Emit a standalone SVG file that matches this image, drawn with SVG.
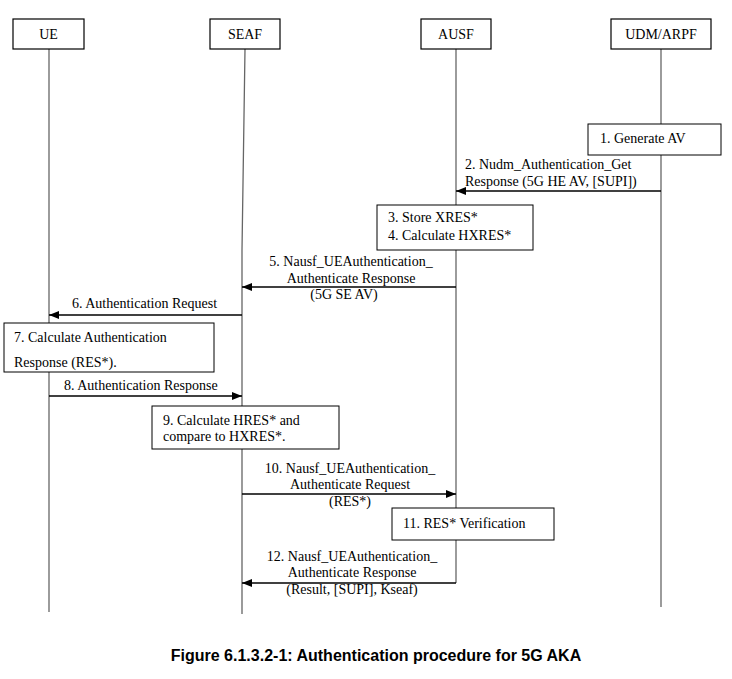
<svg xmlns="http://www.w3.org/2000/svg" width="732" height="679" viewBox="0 0 732 679">
<style>
.box{fill:#fff;stroke:#000;stroke-width:1}
.hdr{fill:#fff;stroke:#000;stroke-width:1.2}
.life{stroke:#666;stroke-width:1.3;fill:none}
.msg{stroke:#000;stroke-width:1.3;fill:none}
text{font-family:"Liberation Serif","Times New Roman",serif;font-size:14px;fill:#000}
.c{text-anchor:middle}
.cap{font-family:"Liberation Sans",Arial,sans-serif;font-weight:bold;font-size:16px}
</style>
<defs>
<marker id="ah" viewBox="0 0 10 8" refX="10" refY="4" markerWidth="10" markerHeight="8" markerUnits="userSpaceOnUse" orient="auto">
<path d="M0,0 L10,4 L0,8 Z" fill="#000"/>
</marker>
</defs>
<g id="lifelines">
<line class="life" x1="49" y1="49" x2="49" y2="612"/>
<polyline class="life" points="245,49 242,250 242,614"/>
<line class="life" x1="456" y1="49" x2="456" y2="583"/>
<line class="life" x1="661" y1="49" x2="661" y2="607"/>
</g>
<g id="UE"><rect class="hdr" x="13" y="19" width="71" height="30"/><text class="c" x="48.5" y="39">UE</text></g>
<g id="SEAF"><rect class="hdr" x="210" y="19" width="70" height="30"/><text class="c" x="245" y="39">SEAF</text></g>
<g id="AUSF"><rect class="hdr" x="421" y="19" width="70" height="30"/><text class="c" x="456" y="39">AUSF</text></g>
<g id="UDM"><rect class="hdr" x="611" y="19" width="100" height="30"/><text class="c" x="661" y="39">UDM/ARPF</text></g>
<g id="step1"><rect class="box" x="588" y="124" width="133" height="31"/><text x="600" y="143">1. Generate AV</text></g>
<g id="step34"><rect class="box" x="377" y="205" width="156" height="45"/><text x="388" y="222">3. Store XRES*</text><text x="388" y="240">4. Calculate HXRES*</text></g>
<g id="step7"><rect class="box" x="4" y="323" width="210" height="49"/><text x="14" y="342">7. Calculate Authentication</text><text x="14" y="367">Response (RES*).</text></g>
<g id="step9"><rect class="box" x="152" y="406" width="187" height="43"/><text x="163" y="425">9. Calculate HRES* and</text><text x="163" y="441">compare to HXRES*.</text></g>
<g id="step11"><rect class="box" x="392" y="508" width="162" height="32"/><text x="403" y="528">11. RES* Verification</text></g>
<g id="connectors">
<line class="msg" x1="661" y1="191" x2="456" y2="191" marker-end="url(#ah)"/>
<line class="msg" x1="456" y1="287" x2="242" y2="287" marker-end="url(#ah)"/>
<line class="msg" x1="242" y1="315" x2="49" y2="315" marker-end="url(#ah)"/>
<line class="msg" x1="49" y1="396" x2="242" y2="396" marker-end="url(#ah)"/>
<line class="msg" x1="242" y1="494" x2="456" y2="494" marker-end="url(#ah)"/>
<line class="msg" x1="456" y1="583" x2="242" y2="583" marker-end="url(#ah)"/>
</g>
<g id="labels">
<text x="465" y="169">2. Nudm_Authentication_Get</text>
<text x="465" y="186">Response (5G HE AV, [SUPI])</text>
<text class="c" x="351" y="266">5. Nausf_UEAuthentication_</text>
<text class="c" x="351" y="283">Authenticate Response</text>
<text class="c" x="344" y="299">(5G SE AV)</text>
<text x="72" y="308">6. Authentication Request</text>
<text x="64" y="390">8. Authentication Response</text>
<text class="c" x="350" y="473">10. Nausf_UEAuthentication_</text>
<text class="c" x="350" y="489">Authenticate Request</text>
<text class="c" x="350" y="506">(RES*)</text>
<text class="c" x="352" y="561">12. Nausf_UEAuthentication_</text>
<text class="c" x="352" y="577">Authenticate Response</text>
<text class="c" x="352" y="594">(Result, [SUPI], Kseaf)</text>
</g>
<text class="cap c" x="376" y="661">Figure 6.1.3.2-1: Authentication procedure for 5G AKA</text>
</svg>
